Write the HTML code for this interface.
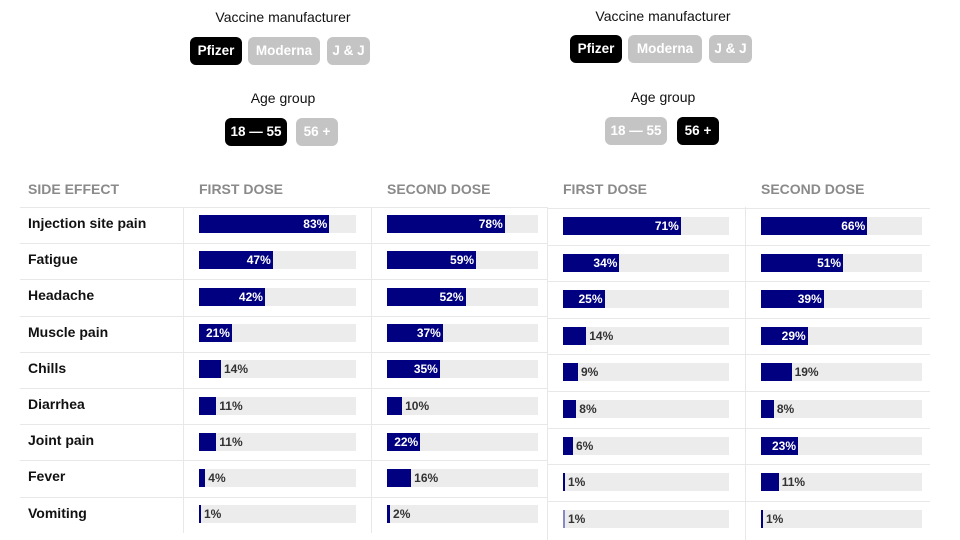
<!DOCTYPE html>
<html><head><style>
body{margin:0;width:960px;height:540px;background:#fff;font-family:"Liberation Sans",sans-serif;position:relative;overflow:hidden;color:#222}
.a{position:absolute}
.t{font-size:14px;color:#111;text-align:center;width:200px}
.b{position:absolute;height:28px;border-radius:6px;font-weight:bold;font-size:13.5px;color:#fff;line-height:28px;text-align:center;background:#c4c4c4}
.b.on{background:#000}
.h{position:absolute;top:181px;font-weight:bold;font-size:14px;color:#8a8a8a}
.hl{position:absolute;height:1px;background:#e8e8e8}
.vl{position:absolute;width:1px;background:#e8e8e8}
.lab{position:absolute;left:28px;font-weight:bold;font-size:14px;color:#111}
.tr{position:absolute;height:18px;background:#ececec}
.f{position:absolute;left:0;top:0;height:18px;background:#000080}
.in{position:absolute;right:2px;top:0;line-height:18px;font-size:12px;font-weight:bold;color:#fff}
.out{position:absolute;top:0;line-height:18px;font-size:12px;font-weight:bold;color:#333}
</style></head><body>
<div class="a t" style="left:183px;top:9px">Vaccine manufacturer</div>
<div class="b on" style="left:190px;top:37px;width:52px">Pfizer</div>
<div class="b" style="left:248px;top:37px;width:72px">Moderna</div>
<div class="b" style="left:327px;top:37px;width:43px">J &amp; J</div>
<div class="a t" style="left:183px;top:90px">Age group</div>
<div class="b on" style="left:225px;top:118px;width:62px">18 — 55</div>
<div class="b" style="left:296px;top:118px;width:42px">56 +</div>

<div class="a t" style="left:563px;top:8px">Vaccine manufacturer</div>
<div class="b on" style="left:570px;top:35px;width:52px">Pfizer</div>
<div class="b" style="left:628px;top:35px;width:74px">Moderna</div>
<div class="b" style="left:709px;top:35px;width:43px">J &amp; J</div>
<div class="a t" style="left:563px;top:89px">Age group</div>
<div class="b" style="left:605px;top:117px;width:62px">18 — 55</div>
<div class="b on" style="left:677px;top:117px;width:42px">56 +</div>

<div class="h" style="left:28px">SIDE EFFECT</div>
<div class="h" style="left:199px">FIRST DOSE</div>
<div class="h" style="left:387px">SECOND DOSE</div>
<div class="h" style="left:563px">FIRST DOSE</div>
<div class="h" style="left:761px">SECOND DOSE</div>

<div id="g"></div>
<script>
var labels=["Injection site pain","Fatigue","Headache","Muscle pain","Chills","Diarrhea","Joint pain","Fever","Vomiting"];
var d=[[83,47,42,21,14,11,11,4,1],[78,59,52,37,35,10,22,16,2],[71,34,25,14,9,8,6,1,1],[66,51,39,29,19,8,23,11,1]];
var cols=[[199,157],[387,151],[563,166],[761,161]];
var h='';
h+='<div class="vl" style="left:183px;top:207px;height:326px"></div>';
h+='<div class="vl" style="left:371px;top:207px;height:326px"></div>';
h+='<div class="vl" style="left:547px;top:207px;height:333px"></div>';
h+='<div class="vl" style="left:745px;top:207px;height:333px"></div>';
for(var i=0;i<9;i++){
 h+='<div class="hl" style="left:20px;width:527px;top:'+(207+i*36.2)+'px"></div>';
 h+='<div class="hl" style="left:547px;width:383px;top:'+(208+i*36.6)+'px"></div>';
}
for(var i=0;i<9;i++){
 h+='<div class="lab" style="top:'+(215+i*36.2)+'px">'+labels[i]+'</div>';
 for(var c=0;c<4;c++){
  var y=c<2?215+i*36.3:217+i*36.6;
  var v=d[c][i],w=cols[c][1]*v/100;
  h+='<div class="tr" style="left:'+cols[c][0]+'px;top:'+y+'px;width:'+cols[c][1]+'px"><div class="f" style="width:'+Math.max(w,2)+'px'+(c==2&&i==8?';background:#8888c8':'')+'">'+(v>=20?'<span class="in">'+v+'%</span>':'')+'</div>'+(v<20?'<span class="out" style="left:'+(Math.max(w,2)+3)+'px">'+v+'%</span>':'')+'</div>';
 }
}
document.getElementById('g').innerHTML=h;
</script>
</body></html>
